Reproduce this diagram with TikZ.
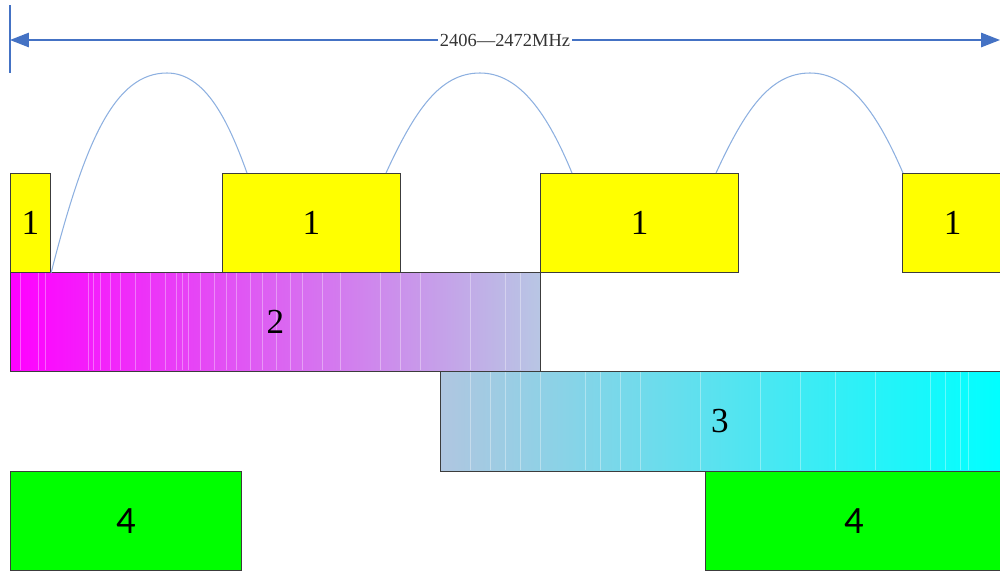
\documentclass[tikz,border=0pt]{standalone}
\usepackage{fontspec}
\setmainfont{Liberation Serif}
\newfontfamily\fourfont{Carlito}
\usetikzlibrary{arrows.meta}
\definecolor{arrowblue}{RGB}{68,114,196}
\definecolor{arcblue}{RGB}{141,176,224}
\definecolor{edgegray}{RGB}{60,60,60}
\definecolor{steel}{RGB}{184,198,228}
\definecolor{steelb}{RGB}{176,198,224}
\definecolor{pureyellow}{RGB}{255,255,0}
\definecolor{puregreen}{RGB}{0,255,0}
\definecolor{puremagenta}{RGB}{255,0,255}
\definecolor{purecyan}{RGB}{0,255,255}
\tikzset{
  band/.style={draw=edgegray, line width=0.6pt, minimum height=99*0.02cm, inner sep=0pt, anchor=north west, font=\fontsize{20}{22}\selectfont},
  yellowbox/.style={band, fill=pureyellow},
  greenbox/.style={band, fill=puregreen, font=\fourfont\fontsize{22}{24}\selectfont},
  arc/.style={draw=arcblue, line width=0.6pt},
  streak/.style={draw=white, opacity=0.35, line width=0.35pt}
}
\begin{document}
\begin{tikzpicture}[x=0.02cm, y=-0.02cm]
\useasboundingbox (0,0) rectangle (1000,572);
% range arrow
\coordinate (vtop) at (10,5);
\coordinate (vbot) at (10,73);
\draw[arrowblue, line width=0.8pt] (vtop) -- (vbot);
\coordinate (aL) at (10,40);
\coordinate (aR) at (1000,40);
\draw[arrowblue, line width=0.8pt, {Triangle[length=3.8mm,width=2.9mm]}-{Triangle[length=3.8mm,width=2.9mm]}] (aL) -- (aR)
  node[midway, fill=white, inner sep=1pt, text=black!80, font=\fontsize{10.5}{12}\selectfont] (range) {2406---2472MHz};
% yellow row
\node[yellowbox, minimum width=40*0.02cm] (y1) at (10,173) {1};
\node[yellowbox, minimum width=178*0.02cm] (y2) at (222,173) {1};
\node[yellowbox, minimum width=198*0.02cm] (y3) at (540,173) {1};
\node[yellowbox, minimum width=100*0.02cm, text width=98*0.02cm, align=center] (y4) at (902,173) {1};
% magenta band
\shade[left color=puremagenta, right color=steel] (10,272) rectangle (540,371);
\foreach \x in {20,38,45,88,93,100,110,120,135,150,165,176,182,188,200,214,226,236,250,262,276,290,302,322,340,380,400,420,470,505,520}
  \draw[streak] (\x,273) -- (\x,370);
\node[band, draw=edgegray, minimum width=530*0.02cm] (m2) at (10,272) {2};
% cyan band
\shade[left color=steelb, right color=purecyan] (440,371) rectangle (1000,471);
\foreach \x in {470,490,505,520,540,585,600,620,640,700,760,800,835,875,930,945,960,968}
  \draw[streak] (\x,372) -- (\x,470);
\node[band, minimum width=562*0.02cm, minimum height=100*0.02cm] (c3) at (440,371) {\hspace*{0pt}};
\node[font=\fontsize{20}{22}\selectfont] (c3label) at (720,421) {3};
% green row
\node[greenbox, minimum width=231*0.02cm] (g1) at (10,471) {4};
\node[greenbox, minimum width=297*0.02cm] (g2) at (705,471) {4};
% arcs
\coordinate (a1s) at (y1.south east);
\coordinate (a1e) at (247,173);
\coordinate (a2s) at (386,173);
\coordinate (a2e) at (572,173);
\coordinate (a3s) at (716,173);
\coordinate (a3e) at (903,173);
\draw[arc] (a1s) .. controls (85,140) and (115,73) .. (167,73) .. controls (205,73) and (228,120) .. (a1e);
\draw[arc] (a2s) .. controls (415,110) and (440,73) .. (480,73) .. controls (520,73) and (548,115) .. (a2e);
\draw[arc] (a3s) .. controls (745,110) and (770,73) .. (810,73) .. controls (850,73) and (878,115) .. (a3e);
\end{tikzpicture}
\end{document}
